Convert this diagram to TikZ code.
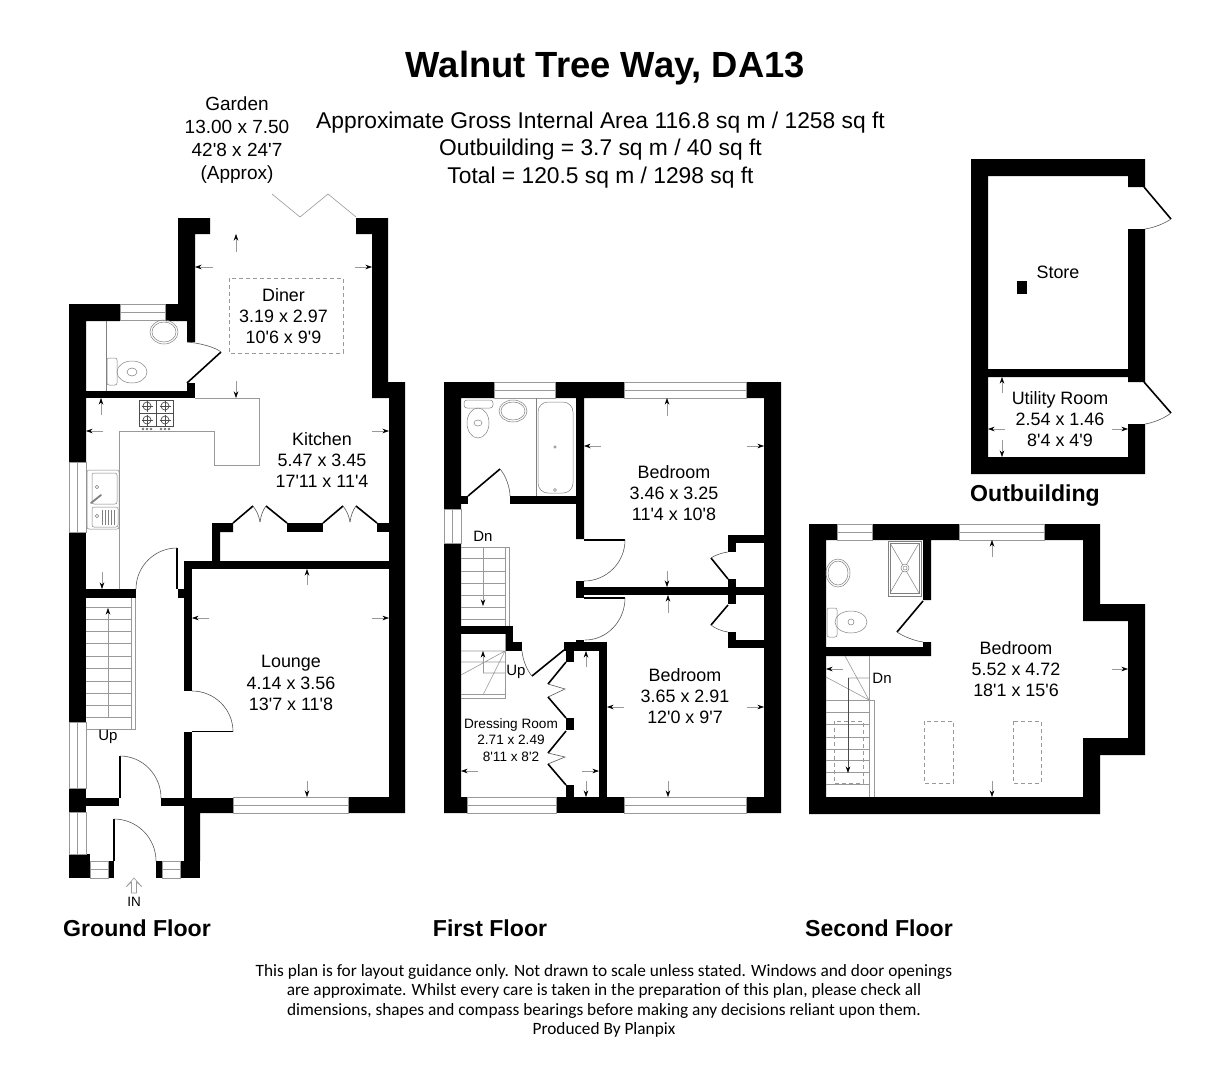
\documentclass[tikz,border=0pt]{standalone}
\usepackage{fontspec}
\setmainfont{Liberation Sans}[Ligatures=TeXOff]
\newfontfamily\notefont{Carlito}
\usepackage{tikz}
\usetikzlibrary{arrows.meta,calc}

\tikzset{
  wall/.style={fill=black,draw=none},
  thin line/.style={draw=black!40,line width=.6pt},
  fixture/.style={draw=black!50,line width=.5pt},
  leaf/.style={draw=black,line width=1.6pt},
  swingline/.style={draw=black!65,line width=.6pt},
  glazing/.style={draw=black!40,fill=white,line width=.6pt},
  dim/.style={draw=black!40,line width=.5pt,-{Stealth[black,length=6.5pt,width=4.5pt]}},
  dash box/.style={draw=black!40,line width=.6pt,dash pattern=on 4pt off 3pt},
  room/.style={align=center,font=\fontsize{17.9}{21.3}\selectfont,inner sep=0pt},
  small room/.style={align=center,font=\fontsize{13.6}{16.5}\selectfont,inner sep=0pt},
  note/.style={align=center,font=\fontsize{17.3}{19.5}\selectfont\notefont,inner sep=0pt},
  floor title/.style={font=\fontsize{23.1}{26}\selectfont\bfseries,inner sep=0pt},
}

% quarter swing of a door: start, corner, end
\newcommand{\swing}[3]{\draw[swingline] (#1) .. controls ($(#1)!.55!(#2)$) and ($(#3)!.55!(#2)$) .. (#3);}
% a window: from, to, outer edge of the wall
\newcommand{\hwin}[3]{\draw[glazing] (#1,#3) rectangle (#2,#3+16); \draw[thin line] (#1,#3+8) -- (#2,#3+8);}
\newcommand{\vwin}[3]{\draw[glazing] (#3,#1) rectangle (#3+17,#2); \draw[thin line] (#3+8.5,#1) -- (#3+8.5,#2);}

\begin{document}
\begin{tikzpicture}[x=1pt,y=-1pt]
  \useasboundingbox (0,0) rectangle (1232,1080);
  \fill[white] (0,0) rectangle (1232,1080);

  % Headings
  \node[inner sep=0pt,font=\fontsize{36.4}{42}\selectfont\bfseries] (title) at (605.5,68) {Walnut Tree Way, DA13};
  \node[room,font=\fontsize{22.8}{27.5}\selectfont] (area) at (600.5,150) {Approximate Gross Internal Area 116.8 sq m / 1258 sq ft\\Outbuilding = 3.7 sq m / 40 sq ft\\Total = 120.5 sq m / 1298 sq ft};
  \node[room,font=\fontsize{19}{23}\selectfont] (garden) at (237,140) {Garden\\13.00 x 7.50\\42'8 x 24'7\\(Approx)};
  \node[floor title] (groundtitle) at (137,928) {Ground Floor};
  \node[floor title] (firsttitle) at (490,928) {First Floor};
  \node[floor title] (secondtitle) at (879,928) {Second Floor};
  \node[floor title] (outtitle) at (1035,496) {Outbuilding};
  \node[note] (plannote) at (604,1001) {This plan is for layout guidance only. Not drawn to scale unless stated. Windows and door openings\\are approximate. Whilst every care is taken in the preparation of this plan, please check all\\dimensions, shapes and compass bearings before making any decisions reliant upon them.\\Produced By Planpix};

  % Ground floor walls
  \fill[wall] (178,218) -- (210,218) -- (210,234) -- (195,234) -- (195,342) -- (187,342) -- (187,321) -- (165,321) -- (165,304) -- (178,304) -- cycle;
  \fill[wall] (69,304) -- (120,304) -- (120,321) -- (86,321) -- (86,462) -- (69,462) -- cycle;
  \fill[wall] (356,218) -- (388,218) -- (388,382) -- (405,382) -- (405,813) -- (348,813) -- (348,797) -- (389,797) -- (389,398) -- (372,398) -- (372,234) -- (356,234) -- cycle;
  \fill[wall] (86,391) rectangle (195,398);
  \fill[wall] (187,383) rectangle (195,398);
  \fill[wall] (69,532) rectangle (86,722);
  \fill[wall] (86,589) rectangle (136,598);
  \fill[wall] (69,788) rectangle (86,812);
  \fill[wall] (86,798) rectangle (119,806);
  \fill[wall] (161,798) rectangle (184,806);
  \fill[wall] (69,854) rectangle (90,878);
  \fill[wall] (108,861) rectangle (114,878);
  \fill[wall] (156,861) rectangle (162,878);
  \fill[wall] (180,861) rectangle (200,878);
  \fill[wall] (184,798) -- (233,798) -- (233,813) -- (200,813) -- (200,861) -- (184,861) -- cycle;
  \fill[wall] (184,732) rectangle (192,798);
  \fill[wall] (184,561) rectangle (192,691);
  \fill[wall] (184,561) rectangle (389,569);
  \fill[wall] (178,589) rectangle (184,598);
  \fill[wall] (212,523) -- (233,523) -- (233,532) -- (220,532) -- (220,561) -- (212,561) -- cycle;
  \fill[wall] (287,523) rectangle (323,532);
  \fill[wall] (377,523) rectangle (389,532);

  % Ground floor windows
  \hwin{120}{165}{304}
  \hwin{233}{348}{797}
  \vwin{462}{532}{69}
  \vwin{722}{788}{69}
  \vwin{812}{854}{69}
  \draw[glazing] (90,861) rectangle (108,878);
  \draw[thin line] (90,869.5) -- (108,869.5);
  \draw[glazing] (162,861) rectangle (180,878);
  \draw[thin line] (162,869.5) -- (180,869.5);

  % Ground floor doors
  \draw[thin line] (272,194) -- (300,217) -- (328,194) -- (356,217);
  \draw[leaf] (187,383) -- (221,352);
  \swing{187,342}{212,344}{221,352}
  \draw[leaf] (177,548) -- (177,589);
  \swing{177,548}{136,548}{136,589}
  \draw[leaf] (192,731.5) -- (233,731.5);
  \swing{192,691}{233,691}{233,731.5}
  \draw[leaf] (120,756) -- (120,798);
  \swing{120,756}{161,756}{161,798}
  \draw[leaf] (114,819) -- (114,861);
  \swing{114,819}{156,819}{156,861}
  \draw[leaf] (233,523) -- (253,506);
  \draw[leaf] (266,506) -- (287,523);
  \draw[leaf] (323,523) -- (343,506);
  \draw[leaf] (356,506) -- (377,523);
  \foreach \x in {0,90}{
    \draw[swingline] ({253+\x},506) .. controls ({256+\x},510) and ({259+\x},515) .. ({260+\x},522);
    \draw[swingline] ({266+\x},506) .. controls ({263+\x},510) and ({261+\x},515) .. ({260+\x},522);
  }

  % Kitchen units and fittings
  \draw[thin line] (195,398) -- (259,398) -- (259,465) -- (214,465) -- (214,431) -- (119,431) -- (119,589);
  \draw[fixture] (106,321) -- (106,391);
  \draw[draw=black!70,line width=.7pt] (139,400) rectangle (173,426);
  \draw[draw=black!70,line width=.6pt] (156,400) -- (156,426) (139,413) -- (173,413);
  \foreach \x in {147,165}\foreach \y in {406,420}{
    \draw[draw=black!70,line width=.7pt] (\x,\y) circle (4);
    \draw[draw=black!70,line width=.5pt] (\x-5.5,\y) -- (\x+5.5,\y) (\x,\y-5.5) -- (\x,\y+5.5);
  }
  \foreach \x in {143,147,151,161,165,169}{\draw[draw=black!60,line width=.6pt] (\x,429) circle (1);}
  \draw[fixture,rounded corners=2pt] (87,470) rectangle (119,529);
  \draw[fixture,rounded corners=2pt] (92,473) rectangle (117,504);
  \draw[fixture,rounded corners=2pt] (92,507) rectangle (118,527);
  \draw[fixture] (97,487) circle (1.7) (97,516) circle (1.7);
  \draw[fixture,line width=1.8pt,line cap=round] (91,503) -- (101,495);
  \foreach \x in {102,105,108,111,114}{\draw[fixture] (\x,510) -- (\x,525);}

  % Ground floor WC
  \draw[fixture] (164,332) ellipse [x radius=14,y radius=12];
  \draw[fixture] (164,332) ellipse [x radius=12,y radius=10];
  \draw[fixture,rounded corners=2pt] (107,358) rectangle (117,385);
  \draw[fixture] (132,372) ellipse [x radius=15,y radius=11];
  \draw[fixture] (132,372) ellipse [x radius=5,y radius=4];

  % Ground floor stairs
  \draw[thin line] (86,729) -- (135,729) -- (135,598);
  \draw[thin line] (131,598) -- (131,729);
  \foreach \y in {607,619,631,643,656,668,681,693,705,717}{\draw[thin line] (86,\y) -- (131,\y);}
  \draw[dim] (108,717) -- (108,608);

  % Ground floor arrows
  \draw[dim] (236,252) -- (236,234);
  \draw[dim] (213,267) -- (195,267);
  \draw[dim] (355,267) -- (372,267);
  \draw[dim] (236,381) -- (236,398);
  \draw[dim] (101,415) -- (101,398);
  \draw[dim] (103,431) -- (86,431);
  \draw[dim] (372,431) -- (389,431);
  \draw[dim] (102,572) -- (102,589);
  \draw[dim] (307,585) -- (307,569);
  \draw[dim] (209,618) -- (192,618);
  \draw[dim] (372,618) -- (389,618);
  \draw[dim] (307,781) -- (307,797);

  % Entrance arrow
  \draw[draw=black!40,line width=.6pt,line join=round] (131.5,893) -- (131.5,882) -- (126,887) -- (134,878) -- (142,887) -- (136.5,882) -- (136.5,893) -- cycle;
  \node[room,font=\fontsize{13.5}{16}\selectfont] (inlabel) at (134,902) {IN};

  % Ground floor labels
  \draw[dash box] (229,278) rectangle (343,353);
  \node[room] (diner) at (283.5,316) {Diner\\3.19 x 2.97\\10'6 x 9'9};
  \node[room] (kitchen) at (322,460) {Kitchen\\5.47 x 3.45\\17'11 x 11'4};
  \node[room] (lounge) at (291,683) {Lounge\\4.14 x 3.56\\13'7 x 11'8};
  \node[room,font=\fontsize{15}{18}\selectfont] (groundup) at (108,737) {Up};

  % First floor walls
  \fill[wall] (444,382) -- (494,382) -- (494,398) -- (461,398) -- (461,509) -- (444,509) -- cycle;
  \fill[wall] (555,382) -- (624,382) -- (624,398) -- (584,398) -- (584,539) -- (576,539) -- (576,398) -- (555,398) -- cycle;
  \fill[wall] (746,382) -- (781,382) -- (781,813) -- (746,813) -- (746,797) -- (764,797) -- (764,398) -- (746,398) -- cycle;
  \fill[wall] (444,543) -- (461,543) -- (461,797) -- (467,797) -- (467,813) -- (444,813) -- cycle;
  \fill[wall] (556,797) rectangle (624,813);
  \fill[wall] (510,496) rectangle (576,504);
  \fill[wall] (461,496) rectangle (468,504);
  \fill[wall] (576,581) rectangle (584,598);
  \fill[wall] (584,587) rectangle (764,595);
  \fill[wall] (728,535) rectangle (736,552);
  \fill[wall] (728,535) rectangle (764,543);
  \fill[wall] (728,579) rectangle (736,604);
  \fill[wall] (728,632) rectangle (736,648);
  \fill[wall] (728,640) rectangle (764,648);
  \fill[wall] (461,626) rectangle (513,634);
  \fill[wall] (505,626) rectangle (513,651);
  \fill[wall] (505,642) rectangle (522,651);
  \fill[wall] (564,642) rectangle (607,651);
  \fill[wall] (576,640) rectangle (584,642);
  \fill[wall] (599,642) rectangle (607,797);
  \fill[wall] (566,651) rectangle (574,662);
  \fill[wall] (566,718) rectangle (574,730);
  \fill[wall] (566,785) rectangle (574,797);

  % First floor windows
  \hwin{494}{555}{382}
  \hwin{624}{746}{382}
  \hwin{467}{556}{797}
  \hwin{624}{746}{797}
  \vwin{509}{543}{444}

  % First floor doors
  \draw[leaf] (468,496) -- (500,469);
  \swing{500,469}{510,480}{510,496}
  \draw[leaf] (584,540) -- (625,540);
  \swing{625,540}{625,581}{584,581}
  \draw[leaf] (584,598) -- (625,598);
  \swing{625,598}{625,640}{585,640}
  \draw[leaf] (728,579) -- (711,558);
  \swing{711,558}{718,553}{728,552}
  \draw[leaf] (728,605) -- (711,625);
  \swing{711,625}{718,631}{728,632}
  \draw[leaf] (532,676) -- (564,650);
  \swing{522,651}{523,666}{532,676}
  \draw[leaf] (566,662) -- (548,684);
  \draw[swingline] (548,684) -- (565,689) -- (548,697);
  \draw[leaf] (548,697) -- (566,718);
  \draw[leaf] (566,731) -- (548,753);
  \draw[swingline] (548,753) -- (565,757) -- (548,764);
  \draw[leaf] (548,764) -- (566,785);

  % First floor bathroom
  \draw[fixture,rounded corners=3pt] (464,400) rectangle (493,408);
  \draw[fixture] (478,423) ellipse [x radius=11,y radius=15];
  \draw[fixture] (478,423) ellipse [x radius=4,y radius=3];
  \draw[fixture] (513,411) ellipse [x radius=14,y radius=11];
  \draw[fixture] (513,411) ellipse [x radius=12,y radius=9];
  \draw[fixture] (536,398) -- (536,496);
  \draw[fixture,rounded corners=10pt] (538,493) -- (538,402) -- (573,402) -- (573,493) -- cycle;
  \draw[fixture] (555,447) circle (1.3) (555,490) circle (1.5);

  % First floor stairs
  \draw[thin line] (461,547) -- (509,547) (505,547) -- (505,626) (509,547) -- (509,626);
  \foreach \y in {558,571,583,595,607,619}{\draw[thin line] (461,\y) -- (505,\y);}
  \draw[dim] (483,547) -- (483,606);
  \draw[thin line] (505,634) -- (505,698) -- (461,698) (461,694) -- (505,694);
  \draw[thin line] (461,651) -- (505,651) (461,662) -- (505,662) (461,675) -- (505,651) (483,695) -- (505,651) (483,673) -- (505,673);
  \draw[dim] (483,673) -- (483,651);
  \node[room,font=\fontsize{15}{18}\selectfont] (firstdown) at (483,536) {Dn};
  \node[room,font=\fontsize{15}{18}\selectfont] (firstup) at (516,672) {Up};

  % First floor arrows
  \draw[dim] (667,416) -- (667,398);
  \draw[dim] (601,446) -- (584,446);
  \draw[dim] (747,446) -- (764,446);
  \draw[dim] (667,571) -- (667,587);
  \draw[dim] (668,613) -- (668,595);
  \draw[dim] (624,707) -- (607,707);
  \draw[dim] (747,707) -- (764,707);
  \draw[dim] (668,781) -- (668,797);
  \draw[dim] (586,667) -- (586,651);
  \draw[dim] (478,771) -- (461,771);
  \draw[dim] (582,771) -- (599,771);
  \draw[dim] (586,781) -- (586,797);

  % First floor labels
  \node[room] (bedroomone) at (674,493) {Bedroom\\3.46 x 3.25\\11'4 x 10'8};
  \node[room] (bedroomtwo) at (685,696) {Bedroom\\3.65 x 2.91\\12'0 x 9'7};
  \node[small room] (dressing) at (511,740) {Dressing Room\\2.71 x 2.49\\8'11 x 8'2};

  % Second floor walls
  \fill[wall] (1044,524) -- (1100,524) -- (1100,604) -- (1145,604) -- (1145,755) -- (1100,755) -- (1100,814) -- (809,814) -- (809,524) -- (837,524) -- (837,540) -- (826,540) -- (826,797) -- (1083,797) -- (1083,738) -- (1128,738) -- (1128,621) -- (1083,621) -- (1083,540) -- (1044,540) -- cycle;
  \fill[wall] (872,524) -- (959,524) -- (959,540) -- (931,540) -- (931,600) -- (923,600) -- (923,540) -- (872,540) -- cycle;
  \fill[wall] (826,647) -- (923,647) -- (923,642) -- (931,642) -- (931,656) -- (826,656) -- cycle;

  % Second floor windows
  \hwin{837}{872}{524}
  \hwin{959}{1044}{524}

  % Second floor door
  \draw[leaf] (923,601) -- (897,632);
  \swing{897,632}{908,640}{923,642}

  % Second floor bathroom
  \draw[fixture] (888,541) rectangle (921,596);
  \draw[fixture] (890,543) rectangle (919,593);
  \draw[fixture] (890,543) -- (919,593) (919,543) -- (890,593);
  \draw[fixture,fill=white] (905,568) circle (4);
  \draw[fixture] (905,568) circle (2);
  \draw[fixture] (838,573) ellipse [x radius=12,y radius=14];
  \draw[fixture] (838,573) ellipse [x radius=10,y radius=12];
  \draw[fixture,rounded corners=2pt] (827,608) rectangle (837,637);
  \draw[fixture] (851,622) ellipse [x radius=16,y radius=11];
  \draw[fixture] (851,622) circle (3);

  % Second floor stairs
  \draw[thin line] (869,656) -- (869,797) (874,700) -- (874,797) (869,700) -- (874,700);
  \foreach \y in {700,712,724,737,749,760,772,784}{\draw[thin line] (826,\y) -- (869,\y);}
  \draw[thin line] (826,677) -- (869,700) (845,656) -- (869,700) (848,678) -- (869,678);
  \draw[dim,draw=black!70] (848,678) -- (848,773);
  \draw[dash box] (834,721) rectangle (863,783);
  \draw[dash box] (924,721) rectangle (953,783);
  \draw[dash box] (1013,721) rectangle (1041,783);

  % Second floor arrows
  \draw[dim] (992,557) -- (992,540);
  \draw[dim] (843,669) -- (826,669);
  \draw[dim] (1112,669) -- (1128,669);
  \draw[dim] (992,781) -- (992,797);

  % Second floor labels
  \node[room] (bedroomthree) at (1016,669) {Bedroom\\5.52 x 4.72\\18'1 x 15'6};
  \node[room,font=\fontsize{15}{18}\selectfont] (seconddown) at (882,678) {Dn};

  % Outbuilding
  \fill[wall] (1145,187) -- (1145,159) -- (971,159) -- (971,474) -- (1145,474) -- (1145,424) -- (1128,424) -- (1128,457) -- (988,457) -- (988,377) -- (1128,377) -- (1128,382) -- (1145,382) -- (1145,229) -- (1128,229) -- (1128,369) -- (988,369) -- (988,176) -- (1128,176) -- (1128,187) -- cycle;
  \fill[wall] (1017,281) rectangle (1027,294);
  \draw[leaf] (1144,187) -- (1171,219);
  \swing{1171,219}{1160,227}{1145,229}
  \draw[leaf] (1144,382) -- (1171,413);
  \swing{1171,413}{1160,422}{1145,424}
  \draw[dim] (1002,393) -- (1002,377);
  \draw[dim] (1005,429) -- (988,429);
  \draw[dim] (1112,429) -- (1128,429);
  \draw[dim] (1002,440) -- (1002,457);
  \node[room] (store) at (1058,272) {Store};
  \node[room] (utility) at (1060,419) {Utility Room\\2.54 x 1.46\\8'4 x 4'9};
\end{tikzpicture}
\end{document}
